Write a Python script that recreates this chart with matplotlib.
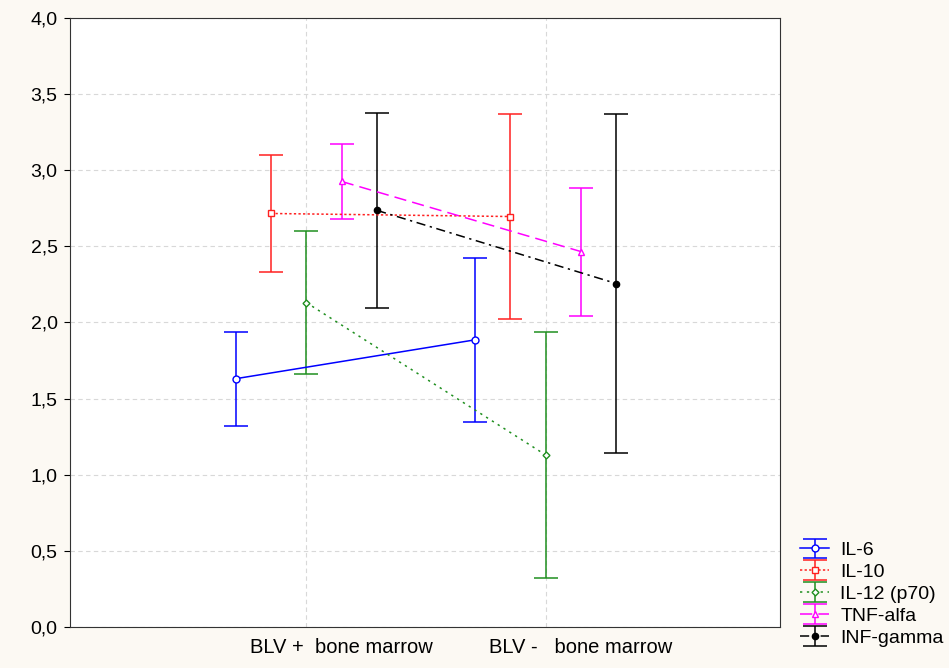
import numpy as np
import matplotlib.pyplot as plt
from matplotlib.ticker import FuncFormatter
from matplotlib.transforms import ScaledTranslation

plt.rcParams['font.family'] = ['Liberation Sans', 'DejaVu Sans']

groups = ["BLV +  bone marrow", "BLV -   bone marrow"]
series = ["IL-6", "IL-10", "IL-12 (p70)", "TNF-alfa", "INF-gamma"]

# group means and half-width of the interval, one pair per series
il6_mean = [1.63, 1.885]
il6_err = [0.31, 0.54]
il10_mean = [2.715, 2.695]
il10_err = [0.385, 0.67]
il12_mean = [2.13, 1.13]
il12_err = [0.47, 0.81]
tnf_mean = [2.925, 2.465]
tnf_err = [0.245, 0.42]
inf_mean = [2.735, 2.255]
inf_err = [0.64, 1.115]

means = [il6_mean, il10_mean, il12_mean, tnf_mean, inf_mean]
errs = [il6_err, il10_err, il12_err, tnf_err, inf_err]

styles = [
    dict(color="#0000ff", ls="-", marker="o", mfc="white", ms=5),
    dict(color="#ff2020", ls=(0, (1.5, 1.5)), marker="s", mfc="white", ms=5),
    dict(color="#1f8f1f", ls=(0, (1.5, 3)), marker="D", mfc="white", ms=3.5),
    dict(color="#ff00ff", ls=(0, (8, 4)), marker="^", mfc="white", ms=5),
    dict(color="black", ls=(0, (6, 3, 1.5, 3)), marker="o", mfc="black", ms=4.5),
]

fig = plt.figure(figsize=(9.49, 6.68), dpi=100, facecolor="#fcf9f3")
ax = fig.add_axes([0.0738, 0.0614, 0.748, 0.912])
ax.set_facecolor("white")

x = np.arange(1, len(groups) + 1)
offsets = np.array([-2, -1, 0, 1, 2]) * 0.148

for name, m, e, st, off in zip(series, means, errs, styles, offsets):
    ax.errorbar(x + off, m, yerr=e, color=st["color"], ls=st["ls"], lw=1.1,
                marker=st["marker"], mfc=st["mfc"], mec=st["color"], ms=st["ms"],
                capsize=8.5, elinewidth=1.1, capthick=1.1, label=name)

ax.set_xlim(0.012, 2.98)
ax.set_ylim(0, 4.0)
ax.set_yticks(np.arange(0, 4.01, 0.5))
ax.yaxis.set_major_formatter(FuncFormatter(lambda v, p: f"{v:.1f}".replace(".", ",")))
ax.set_xticks(x)
ax.set_xticklabels(groups)
ax.tick_params(labelsize=14, length=4, width=0.8, colors="black", pad=5)
ax.tick_params(axis="x", length=0, pad=8, labelsize=14.5)
# group labels sit a little right of their gridlines
shift = ScaledTranslation(35 / 100, 0, fig.dpi_scale_trans)
for lbl in ax.get_xticklabels():
    lbl.set_transform(lbl.get_transform() + shift)

ax.grid(True, color="#d8d8d8", ls=(0, (4, 3)), lw=0.8)
ax.set_axisbelow(True)
for sp in ax.spines.values():
    sp.set_linewidth(0.8)
    sp.set_color("#333333")

fig.legend(loc="lower left", bbox_to_anchor=(0.831, 0.0145), frameon=False,
           fontsize=14, handlelength=1.5, handletextpad=0.55, labelspacing=0.22,
           borderpad=0.1)

fig.savefig("out.png", dpi=100, facecolor=fig.get_facecolor())
